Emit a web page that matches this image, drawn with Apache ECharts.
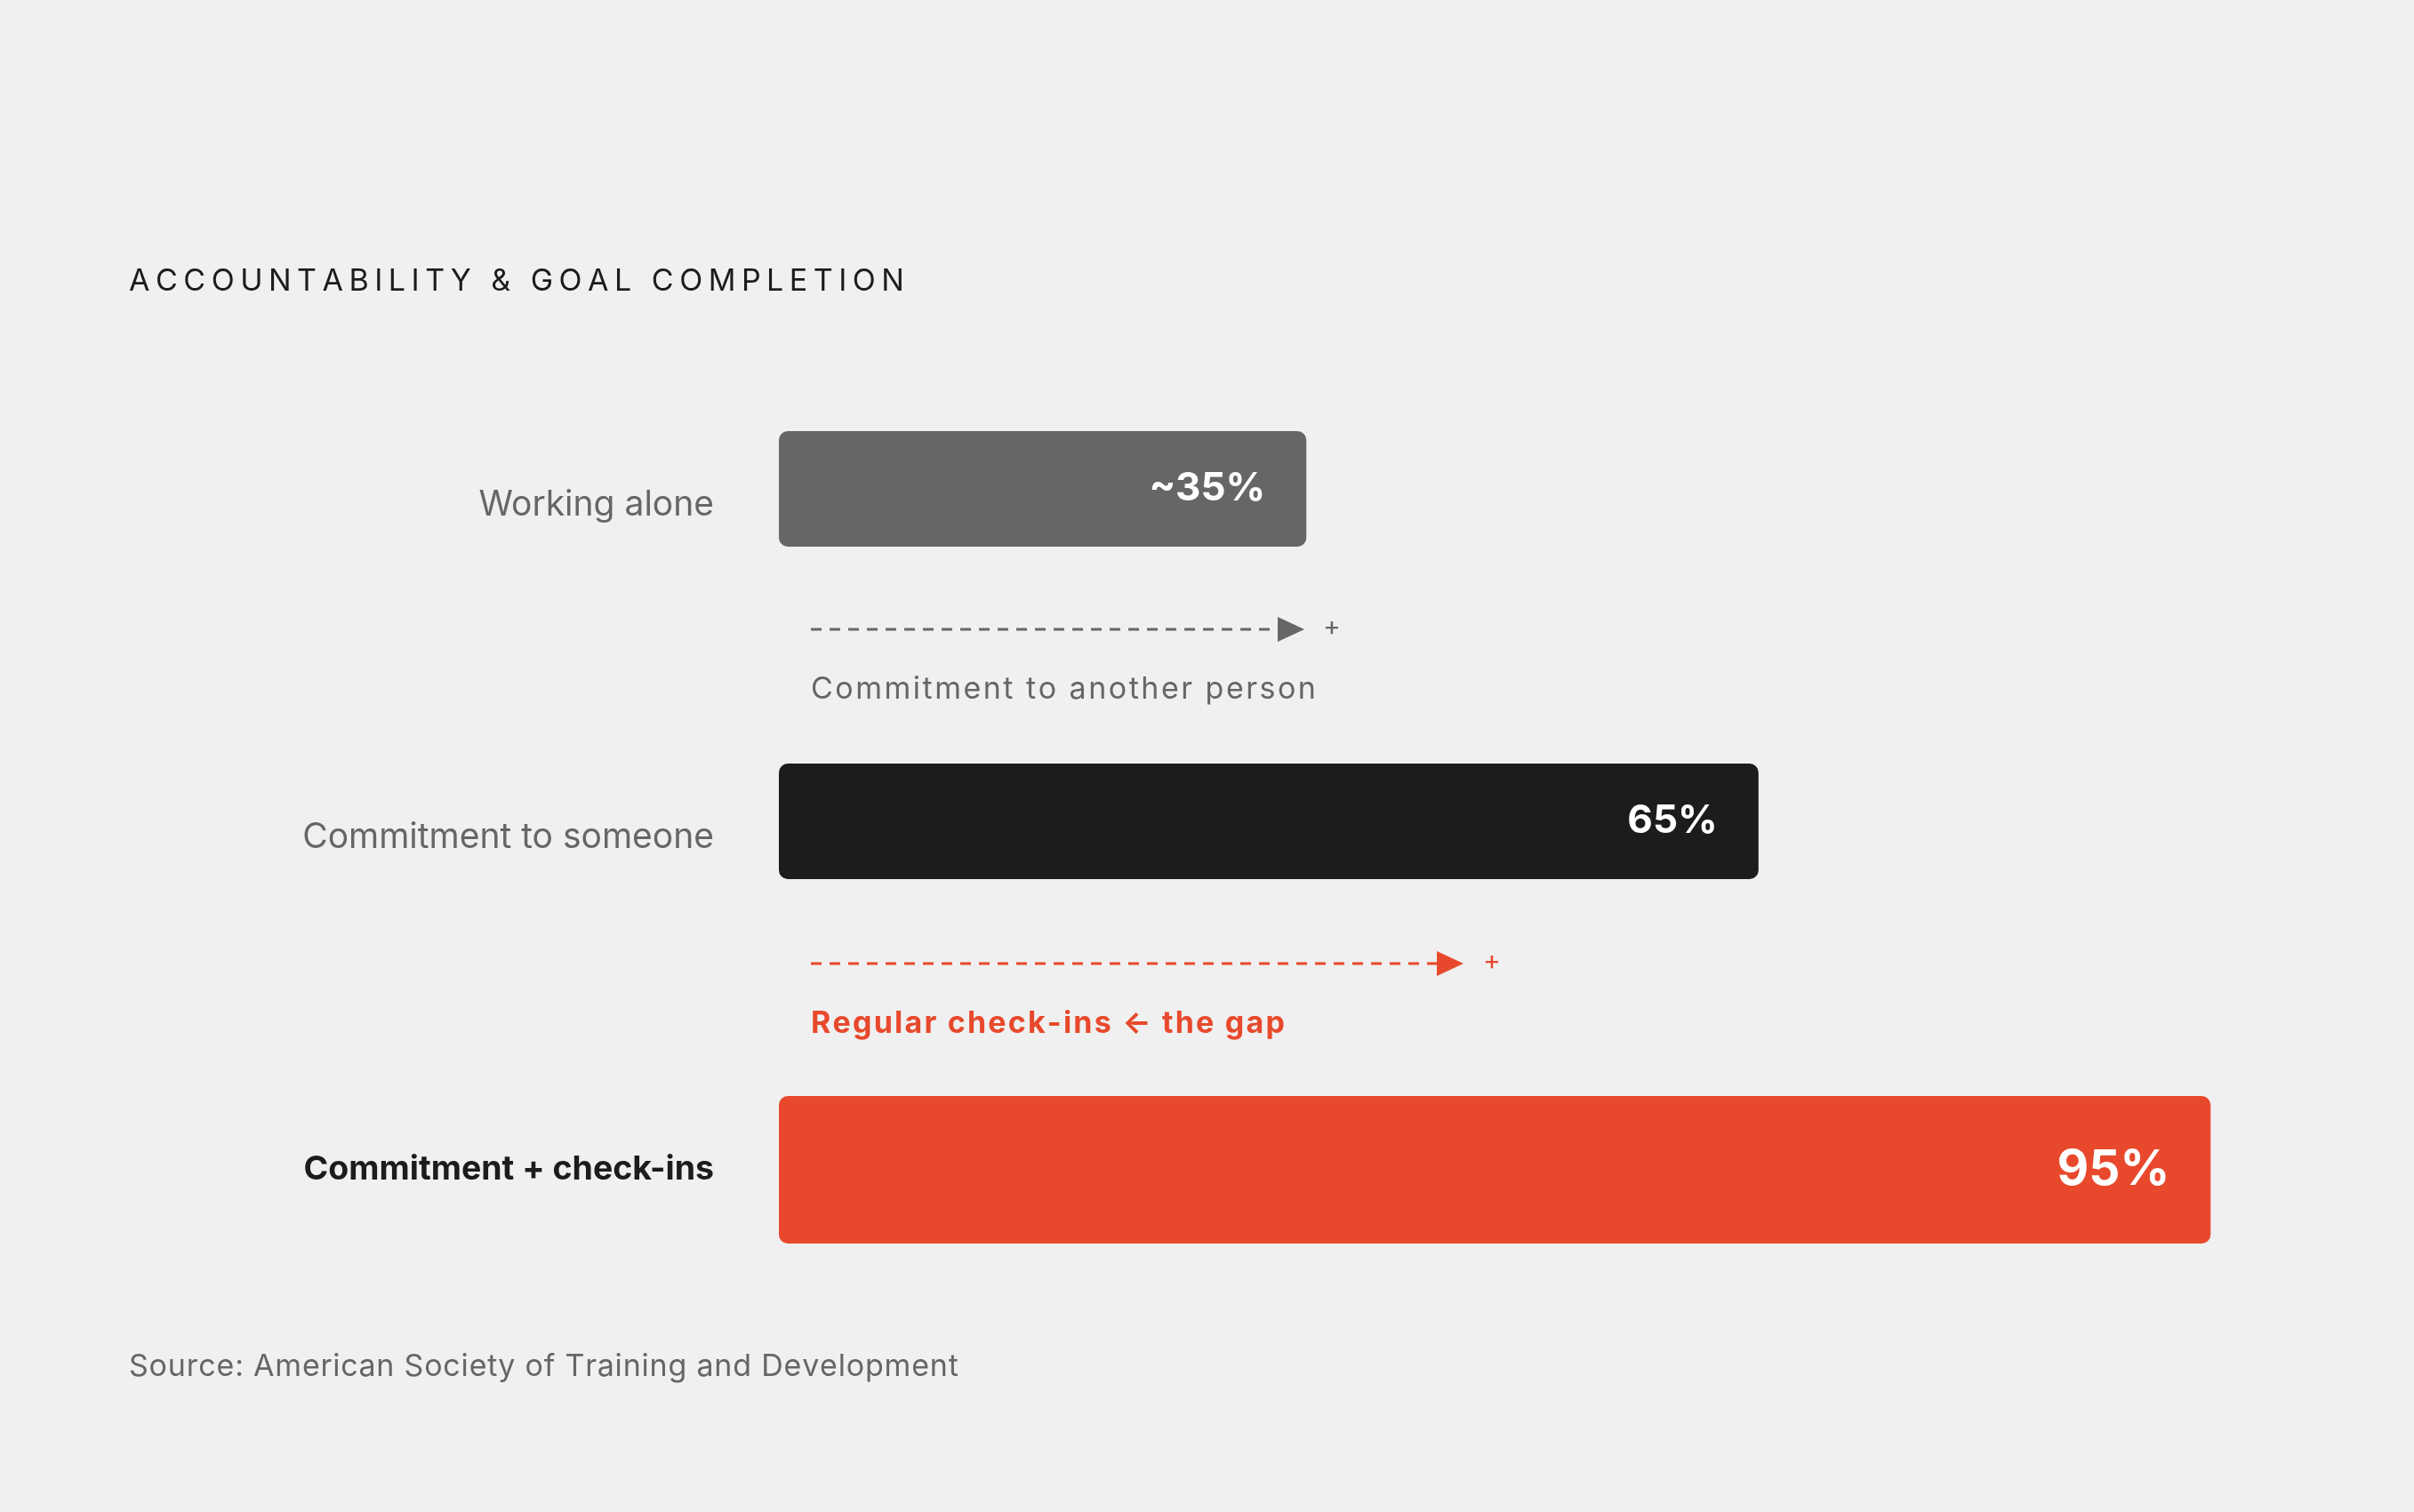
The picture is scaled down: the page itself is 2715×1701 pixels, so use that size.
<!DOCTYPE html>
<html><head><meta charset="utf-8">
<script src="https://cdn.jsdelivr.net/npm/echarts@6/dist/echarts.min.js"></script>
<style>html,body{margin:0;padding:0;background:#f0f0f0}#c{width:2715px;height:1701px}</style>
</head><body><div id="c"></div>
<script>
const categories = ['Working alone', 'Commitment to someone', 'Commitment + check-ins'];
const values = [35, 65, 95];
const valueLabels = ['~35%', '65%', '95%'];
const title = 'ACCOUNTABILITY & GOAL COMPLETION';
const note1 = 'Commitment to another person';
const note2 = 'Regular check-ins \u2190 the gap';
const source = 'Source: American Society of Training and Development';

const colors = ['#666666', '#1c1c1a', '#e8492c'];
const barWidths = [130, 130, 166];
const labelSizes = [44, 44, 55];
const FONT = 'Inter, Roboto, sans-serif';

const chart = echarts.init(document.getElementById('c'));
const cv = document.createElement('canvas').getContext('2d');
function spaced(str, x, y, font, size, weight, color, spacing) {
  cv.font = weight + ' ' + size + 'px ' + FONT;
  const els = []; let cx = x;
  for (const ch of str) {
    els.push({type:'text', left: cx, top: y, style:{text: ch, font: weight + ' ' + size + 'px ' + FONT, fill: color}});
    cx += cv.measureText(ch).width + spacing;
  }
  return els;
}
function arrow(y, x1, x2, color, plusX) {
  return [
    {type:'line', shape:{x1:x1, y1:y, x2:x2, y2:y}, style:{stroke:color, lineWidth:3, lineDash:[12,9]}},
    {type:'polygon', shape:{points:[[x2,y-14],[x2+30,y],[x2,y+14]]}, style:{fill:color}},
    {type:'text', left: plusX, top: y-17, style:{text:'+', font:'400 30px '+FONT, fill:color}}
  ];
}
const series = values.map((v, i) => ({
  type: 'bar', barWidth: barWidths[i], barGap: '-100%',
  data: values.map((vv, j) => j === i ? vv : '-'),
  itemStyle: {color: colors[i], borderRadius: 10},
  label: {show: true, position: 'insideRight', distance: 46, formatter: () => valueLabels[i],
    color: '#ffffff', fontFamily: FONT, fontWeight: 700, fontSize: labelSizes[i]},
  silent: true
}));
chart.setOption({
  backgroundColor: '#f0f0f0',
  animation: false,
  grid: {left: 876, width: 1695, top: 381, height: 1122},
  xAxis: {type: 'value', min: 0, max: 100, show: false},
  yAxis: {type: 'category', data: categories, inverse: true,
    axisLine: {show: false}, axisTick: {show: false},
    axisLabel: {margin: 73, fontFamily: FONT, fontSize: 39,
      formatter: (val, idx) => idx === 2 ? '{b|' + val + '}' : '{n|' + val + '}',
      rich: {n: {color: '#666666', fontSize: 39, fontFamily: FONT, fontWeight: 400},
             b: {color: '#1c1c1a', fontSize: 37.5, fontFamily: FONT, fontWeight: 700}}}},
  series: series,
  graphic: [].concat(
    spaced(title, 145, 300, FONT, 34, 400, '#1c1c1a', 6.5),
    arrow(708, 912, 1437, '#666666', 1488),
    spaced(note1, 912, 759, FONT, 34, 400, '#666666', 2.5),
    arrow(1084, 912, 1616, '#e8492c', 1668),
    spaced(note2, 912, 1135, FONT, 34, 700, '#e8492c', 2.2),
    spaced(source, 145, 1521, FONT, 34, 400, '#666666', 0.8)
  )
});
</script></body></html>
